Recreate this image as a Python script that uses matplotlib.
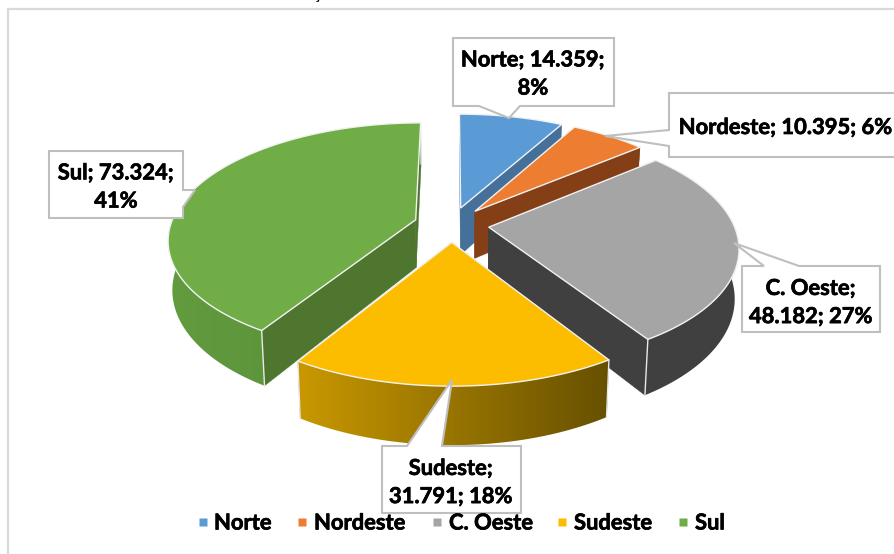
import numpy as np
import matplotlib
matplotlib.use('Agg')
import matplotlib.pyplot as plt
import matplotlib.patheffects as pe
from matplotlib.patches import Polygon

regions = ['Norte', 'Nordeste', 'C. Oeste', 'Sudeste', 'Sul']
values = [14359, 10395, 48182, 31791, 73324]
percents = [8, 6, 27, 18, 41]
label_breaks = [2, 3, 1, 1, 2]  # how many ';' parts stay on the first line

top_colors = ['#5b9bd5', '#ed7d31', '#a5a5a5', '#fcbd00', '#70ad47']
side_colors = ['#44709a', '#843f17', '#404040', '#6b5100', '#4e762f']
wall_left = ['#44709a', '#843f17', '#404040', '#c99800', '#629c3e']
wall_right = ['#44709a', '#843f17', '#404040', '#665000', '#558a38']

# projection of the pie, fitted by eye
cx, cy = 451.5, 224.5
sx, sy = 245, 114
persp = 0.162
depth = 48
explode = 0.153

# callout boxes, in pixels: outline with the pointer
callouts = [
    [(453, 38), (614, 38), (614, 106), (520, 106), (509, 118), (479, 106), (453, 106)],
    [(669, 93), (900, 93), (900, 157), (669, 157), (669, 146), (605, 136), (669, 130)],
    [(742, 266), (764, 266), (734, 243), (799, 266), (880, 266), (880, 332), (742, 332)],
    [(382, 446), (407, 446), (452, 380), (442, 446), (521, 446), (521, 513), (382, 513)],
    [(49, 151), (183, 151), (183, 190), (195, 190), (183, 207), (183, 218), (49, 218)],
]
label_pos = [(533, 74), (786, 127.5), (811, 302.5), (451, 482.5), (116, 187)]

legend_box_x = [202.5, 302, 437, 562, 683]
legend_text_x = [214, 314, 449, 574, 695]
legend_y = 523

FONT = 'Lato'
FS = 15.8
HEAVY = [pe.withStroke(linewidth=0.5, foreground='black')]


def project(u, v, z=0.0):
    d = 1 - persp * v
    shrink = 1 - 0.015 * z
    return cx + sx * u * shrink / d, cy + sy * v / d + depth * z / d


def mix(c1, c2, f):
    a = np.array(matplotlib.colors.to_rgb(c1))
    b = np.array(matplotlib.colors.to_rgb(c2))
    return a + (b - a) * f


fig = plt.figure(figsize=(8.94, 5.54), dpi=100, facecolor='white')
ax = fig.add_axes([0, 0, 1, 1])
ax.axis('off')

# chart frame
ax.plot([8, 8, 894], [554, 9, 9], color='#d9d9d9', lw=1.6, solid_joinstyle='miter', zorder=1)
ax.text(317, -0.5, 'ç', family='Liberation Serif', weight='bold', fontsize=11,
        ha='center', va='baseline', color='black')

total = sum(values)
edges = np.concatenate([[0], np.cumsum(values)]) / total * 2 * np.pi


def draw_slice(i, order):
    t0, t1 = edges[i], edges[i + 1]
    tm = (t0 + t1) / 2
    au, av = explode * np.sin(tm), -explode * np.cos(tm)
    ts = np.linspace(t0, t1, 120)
    us = au + np.sin(ts)
    vs = av - np.cos(ts)

    # radial cut faces
    for t in (t0, t1):
        eu, ev = au + np.sin(t), av - np.cos(t)
        face = [project(au, av), project(eu, ev), project(eu, ev, 1), project(au, av, 1)]
        ax.add_patch(Polygon(face, closed=True, fc=side_colors[i], ec=side_colors[i], lw=0.3,
                             zorder=order))

    # outer wall, shaded left to right
    tx, ty = project(us, vs)
    bx, by = project(us, vs, 1)
    wall = np.column_stack([np.r_[tx, bx[::-1]], np.r_[ty, by[::-1]]])
    clip = Polygon(wall, closed=True, fc='none', ec='none', transform=ax.transData)
    ax.add_patch(clip)
    ramp = np.array([mix(wall_left[i], wall_right[i], f) for f in np.linspace(0, 1, 256)])
    im = ax.imshow(ramp[np.newaxis, :, :], aspect='auto', zorder=order,
                   extent=(wall[:, 0].min(), wall[:, 0].max(), wall[:, 1].max(), wall[:, 1].min()))
    im.set_clip_path(clip)

    # white seams on the corners facing us
    for t in (t0, t1):
        eu, ev = au + np.sin(t), av - np.cos(t)
        if ev > 0 or i == 4:
            a, b = project(eu, ev), project(eu, ev, 1)
            ax.plot([a[0], b[0]], [a[1], b[1]], color='#e8e8e8', lw=1.0, zorder=order + 0.1)

    # top surface
    px, py = project(np.r_[au, us], np.r_[av, vs])
    ax.add_patch(Polygon(np.column_stack([px, py]), closed=True, fc=top_colors[i],
                         ec='#f2f2f2', lw=1.0, joinstyle='miter', zorder=order + 0.2))


for order, i in enumerate([0, 1, 4, 2, 3]):
    draw_slice(i, order + 1)

# data labels
for i, name in enumerate(regions):
    ax.add_patch(Polygon(callouts[i], closed=True, fc='white', ec='#bfbfbf', lw=1.5,
                         joinstyle='miter', zorder=10))
    val = f'{values[i]:,}'.replace(',', '.')
    parts = [f'{name};', f'{val};', f'{percents[i]}%']
    brk = label_breaks[i]
    label = ' '.join(parts[:brk])
    if brk < 3:
        label += '\n' + ' '.join(parts[brk:])
    ax.text(label_pos[i][0], label_pos[i][1], label, family=FONT, weight='bold', fontsize=FS,
            ha='center', va='center', linespacing=1.42, color='black', zorder=11,
            path_effects=HEAVY)

# legend
for i, name in enumerate(regions):
    ax.plot(legend_box_x[i], legend_y - 1, marker='s', ms=6, mfc=top_colors[i], mec='none', zorder=12)
    ax.text(legend_text_x[i], legend_y, name, family=FONT, weight='bold', fontsize=FS,
            ha='left', va='center', color='black', zorder=12, path_effects=HEAVY)

ax.set_xlim(0, 894)
ax.set_ylim(554, 0)

fig.savefig('out.png', dpi=100, facecolor='white')
